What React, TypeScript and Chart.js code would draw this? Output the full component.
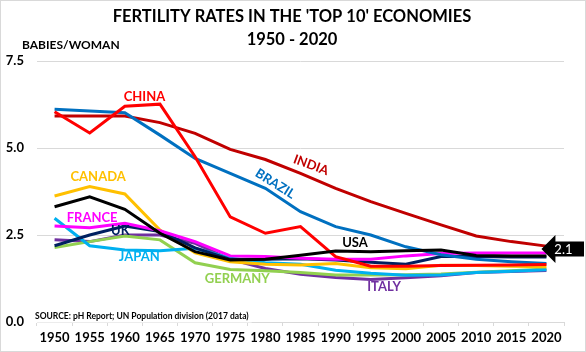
import React, { useEffect, useRef } from "react";
import { Chart, registerables } from "chart.js";

Chart.register(...registerables);

const years = ["1950", "1955", "1960", "1965", "1970", "1975", "1980", "1985", "1990", "1995", "2000", "2005", "2010", "2015", "2020"];
const yTicks = [0, 2.5, 5, 7.5];

const usa = [3.31, 3.6, 3.24, 2.55, 2.02, 1.78, 1.8, 1.92, 2.04, 2.02, 2.05, 2.07, 1.91, 1.9, 1.9];
const china = [6.04, 5.43, 6.2, 6.26, 4.75, 3.02, 2.55, 2.74, 1.88, 1.6, 1.6, 1.62, 1.63, 1.64, 1.65];
const brazil = [6.11, 6.06, 6.01, 5.37, 4.7, 4.27, 3.84, 3.17, 2.74, 2.5, 2.16, 1.93, 1.8, 1.73, 1.68];
const india = [5.92, 5.92, 5.92, 5.73, 5.42, 4.96, 4.67, 4.27, 3.84, 3.46, 3.12, 2.79, 2.47, 2.31, 2.18];
const france = [2.76, 2.71, 2.84, 2.62, 2.31, 1.9, 1.88, 1.83, 1.8, 1.8, 1.9, 1.97, 1.98, 1.98, 1.98];
const uk = [2.19, 2.5, 2.76, 2.6, 2.13, 1.8, 1.8, 1.82, 1.78, 1.72, 1.66, 1.88, 1.88, 1.87, 1.87];
const canada = [3.62, 3.89, 3.68, 2.64, 1.99, 1.73, 1.66, 1.64, 1.68, 1.56, 1.53, 1.63, 1.62, 1.6, 1.59];
const japan = [2.98, 2.19, 2.07, 2.05, 2.12, 1.83, 1.7, 1.66, 1.49, 1.4, 1.34, 1.35, 1.42, 1.46, 1.5];
const germany = [2.14, 2.31, 2.47, 2.36, 1.7, 1.51, 1.47, 1.42, 1.35, 1.35, 1.36, 1.38, 1.43, 1.47, 1.52];
const italy = [2.36, 2.31, 2.5, 2.5, 2.26, 1.8, 1.54, 1.37, 1.28, 1.22, 1.27, 1.33, 1.42, 1.45, 1.48];

const names = ["USA", "CHINA", "BRAZIL", "INDIA", "FRANCE", "UK", "CANADA", "JAPAN", "GERMANY", "ITALY"];
const values = [usa, china, brazil, india, france, uk, canada, japan, germany, italy];
const colors = ["#000000", "#FF0000", "#0070C0", "#C00000", "#FF00FF", "#002060", "#FFC000", "#00B0F0", "#92D050", "#7030A0"];

// label anchors in data units (category index, value) and rotation in degrees
const labelIdx = [8.55, 2.56, 6.28, 7.3, 1.07, 1.87, 1.24, 2.41, 5.2, 9.38];
const labelVal = [2.28, 6.47, 3.97, 4.51, 2.99, 2.61, 4.17, 1.87, 1.24, 1.01];
const labelRot = [0, 0, 32, 20, 0, 0, 0, 0, 0, 0];

const calloutValue = 2.1;
const FONT = "Lato, 'Open Sans', sans-serif";

export default function App() {
  const ref = useRef<HTMLCanvasElement>(null);

  useEffect(() => {
    const textPlugin = {
      id: "texts",
      afterDraw(chart: any) {
        const ctx = chart.ctx as CanvasRenderingContext2D;
        const xs = chart.scales.x;
        const ys = chart.scales.y;
        ctx.save();
        // titles
        ctx.fillStyle = "#000";
        ctx.textAlign = "center";
        ctx.textBaseline = "alphabetic";
        ctx.font = `bold 16.5px ${FONT}`;
        ctx.fillText("FERTILITY RATES IN THE 'TOP 10' ECONOMIES", 292, 22);
        ctx.fillText("1950 - 2020", 292, 45);
        ctx.textAlign = "left";
        ctx.font = `bold 12px ${FONT}`;
        ctx.fillText("BABIES/WOMAN", 22, 49);

        // source
        ctx.font = `bold 8.5px ${FONT}`;
        const src = "SOURCE: pH Report; UN Population division (2017 data)";
        const w = ctx.measureText(src).width;
        ctx.fillStyle = "#fff";
        ctx.fillRect(33, 309, w + 5, 13.5);
        ctx.fillStyle = "#000";
        ctx.textBaseline = "middle";
        ctx.fillText(src, 35, 316);

        // series labels
        ctx.font = `bold 13px ${FONT}`;
        ctx.textAlign = "center";
        ctx.textBaseline = "middle";
        names.forEach((n, i) => {
          const px = xs.getPixelForValue(labelIdx[i]);
          const py = ys.getPixelForValue(labelVal[i]);
          ctx.save();
          ctx.translate(px, py);
          ctx.rotate((labelRot[i] * Math.PI) / 180);
          ctx.fillStyle = colors[i];
          ctx.fillText(n, 0, 0);
          ctx.restore();
        });

        // callout arrow
        const tx = xs.getPixelForValue(years.length - 1) - 5;
        const ty = ys.getPixelForValue(calloutValue);
        ctx.fillStyle = "#000";
        ctx.beginPath();
        ctx.moveTo(tx, ty);
        ctx.lineTo(tx + 14, ty - 14);
        ctx.lineTo(tx + 14, ty - 7.5);
        ctx.lineTo(584, ty - 7.5);
        ctx.lineTo(584, ty + 7.5);
        ctx.lineTo(tx + 14, ty + 7.5);
        ctx.lineTo(tx + 14, ty + 14);
        ctx.closePath();
        ctx.fill();
        ctx.fillStyle = "#fff";
        ctx.font = `13px ${FONT}`;
        ctx.fillText(calloutValue.toFixed(1), tx + 22, ty + 0.5);

        // border
        ctx.strokeStyle = "#D9D9D9";
        ctx.lineWidth = 1;
        ctx.strokeRect(0.5, 0.5, 585, 351);
        ctx.restore();
      },
    };

    const chart = new Chart(ref.current as HTMLCanvasElement, {
      type: "line",
      data: {
        labels: years,
        datasets: names.map((n, i) => ({
          label: n,
          data: values[i],
          borderColor: colors[i],
          backgroundColor: colors[i],
          borderWidth: 3,
          pointRadius: 0,
          tension: 0,
          fill: false,
        })),
      },
      options: {
        responsive: false,
        animation: false,
        layout: { padding: { top: 61, left: 0, right: 22, bottom: 0 } },
        plugins: {
          legend: { display: false },
          title: { display: false },
          tooltip: { enabled: false },
        },
        scales: {
          x: {
            type: "category",
            offset: true,
            grid: {
              display: true,
              drawOnChartArea: false,
              drawTicks: true,
              tickLength: 4,
              color: "#D9D9D9",
              offset: true,
            },
            border: { display: true, color: "#D9D9D9", width: 1 },
            ticks: {
              color: "#000",
              font: { family: FONT, size: 13, weight: "bold" },
              padding: 4,
              maxRotation: 0,
              autoSkip: false,
            },
            afterFit: (s: any) => {
              s.height = 30;
            },
          },
          y: {
            min: 0,
            max: 7.5,
            afterBuildTicks: (s: any) => {
              s.ticks = yTicks.map((v) => ({ value: v }));
            },
            grid: { color: "#D9D9D9", drawTicks: false, lineWidth: 1 },
            border: { display: false },
            ticks: {
              color: "#000",
              font: { family: FONT, size: 13, weight: "bold" },
              padding: 13,
              callback: (v: any) => Number(v).toFixed(1),
            },
            afterFit: (s: any) => {
              s.width = 37;
            },
          },
        },
      },
      plugins: [textPlugin],
    });
    return () => chart.destroy();
  }, []);

  return (
    <div style={{ position: "absolute", left: 0, top: 0, width: 586, height: 352, background: "#fff" }}>
      <canvas ref={ref} width={586} height={352} style={{ width: 586, height: 352, display: "block" }} />
    </div>
  );
}
